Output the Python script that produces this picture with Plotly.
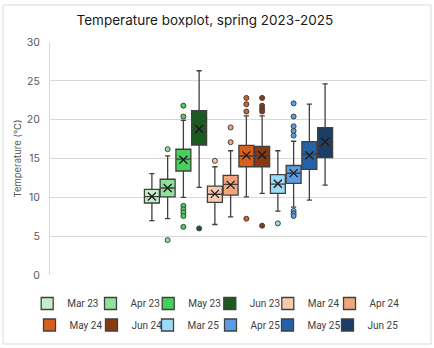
import plotly.graph_objects as go

months = ["Mar 23", "Apr 23", "May 23", "Jun 23", "Mar 24", "Apr 24",
          "May 24", "Jun 24", "Mar 25", "Apr 25", "May 25", "Jun 25"]
colors = ["#c4efc9", "#8ee39c", "#47d05a", "#1b5a20", "#f8cbb0", "#f2a57b",
          "#d6601c", "#8a3a12", "#9bdbf6", "#5a9de4", "#2462a8", "#1b3d66"]
lower_whisker = [7.0, 7.25, 10.0, 11.28, 6.5, 7.49, 10.07, 10.5, 8.22, 8.75, 9.64, 11.58]
q1 = [9.27, 10.05, 13.39, 16.74, 9.35, 10.29, 13.94, 13.94, 10.5, 11.8, 13.6, 15.1]
median = [10.1, 11.2, 14.93, 18.9, 10.4, 11.67, 15.32, 15.32, 11.7, 13.1, 15.55, 16.85]
q3 = [11.02, 12.33, 16.19, 21.17, 11.45, 12.83, 16.7, 16.57, 12.93, 14.1, 17.17, 18.98]
upper_whisker = [13.05, 15.34, 19.9, 26.3, 13.94, 16.0, 20.5, 20.5, 16.0, 17.22, 22.0, 24.6]
means = [10.1, 11.2, 14.85, 18.8, 10.45, 11.6, 15.4, 15.45, 11.75, 13.12, 15.4, 17.15]
outliers = [
    [],
    [16.2, 4.5],
    [21.8, 20.4, 8.9, 8.45, 8.05, 7.6, 6.2],
    [6.0],
    [14.7],
    [19.0, 17.1],
    [22.8, 22.0, 21.05, 7.25],
    [22.8, 21.8, 21.4, 21.05, 6.35],
    [6.65],
    [22.1, 20.4, 19.15, 18.55, 17.95, 8.25, 7.9, 7.6],
    [],
    [],
]
y_ticks = [0, 5, 10, 15, 20, 25, 30]

# legend layout (pixel positions of legend symbol centres, styling only)
legend_sym_x = [46.7, 110, 167.7, 229.3, 287.3, 349, 49, 111, 167, 230, 287, 347]
legend_row_y = [302, 323.5]

FONT = "Inter"
LEG_FONT = "Roboto"
LINE = "#404040"

L, R, T, B = 50, 7, 42, 73
W, H = 434, 348
pw, ph = W - L - R, H - T - B


def px_to_paper_x(px):
    return (px - L) / pw


def px_to_paper_y(py):
    return (H - B - py) / ph


fig = go.Figure()
legend_layouts = {}
for i, m in enumerate(months):
    leg = "legend" if i == 0 else f"legend{i + 1}"
    fig.add_trace(go.Box(
        x=[i], q1=[q1[i]], median=[median[i]], q3=[q3[i]],
        lowerfence=[lower_whisker[i]], upperfence=[upper_whisker[i]],
        width=0.95, whiskerwidth=0.35, name=m, fillcolor=colors[i],
        line=dict(color=LINE, width=1.3), boxpoints=False, legend=leg,
        hoverinfo="skip"))
    if outliers[i]:
        fig.add_trace(go.Scatter(
            x=[i] * len(outliers[i]), y=outliers[i], mode="markers",
            marker=dict(symbol="circle", size=5, color=colors[i],
                        line=dict(color=LINE, width=1)),
            showlegend=False, hoverinfo="skip", legend=leg))
    fig.add_trace(go.Scatter(
        x=[i], y=[means[i]], mode="markers",
        marker=dict(symbol="x-thin", size=8, color="#1a1a1a",
                    line=dict(color="#1a1a1a", width=1.3)),
        showlegend=False, hoverinfo="skip", legend=leg))
    row_y = legend_row_y[0] if i < 6 else legend_row_y[1]
    legend_layouts[leg] = dict(
        orientation="h", x=px_to_paper_x(legend_sym_x[i] - 19.5), xanchor="left",
        y=px_to_paper_y(row_y - 13), yanchor="top",
        font=dict(family=LEG_FONT, size=10, color="#404040"),
        bgcolor="rgba(0,0,0,0)")

fig.update_layout(
    width=W, height=H,
    margin=dict(l=L, r=R, t=T, b=B),
    paper_bgcolor="white", plot_bgcolor="white",
    boxmode="overlay",
    font=dict(family=FONT, color="#404040"),
    title=dict(text="Temperature boxplot, spring 2023-2025",
               x=0.472, xanchor="center", y=1 - 20 / H, yanchor="middle",
               font=dict(family=FONT, size=13.5, color="#1a1a1a")),
    xaxis=dict(range=[-6.47, 17.47], showgrid=False, zeroline=False,
               showticklabels=False, ticks="", showline=False),
    yaxis=dict(range=[0, 30], tickvals=y_ticks, showgrid=True,
               gridcolor="#d9d9d9", gridwidth=1, zeroline=False,
               showline=True, linecolor="#d9d9d9", linewidth=1,
               tickfont=dict(family=FONT, size=10.5, color="#595959"),
               ticklabelstandoff=7,
               title=dict(text="Temperature (°C)", standoff=3,
                          font=dict(family=FONT, size=9.5, color="#595959"))),
    shapes=[dict(type="rect", xref="paper", yref="paper",
                 x0=px_to_paper_x(3), x1=px_to_paper_x(431),
                 y0=px_to_paper_y(344), y1=px_to_paper_y(5),
                 line=dict(color="#d9d9d9", width=1), layer="below")],
    **legend_layouts,
)

fig.write_html("out.html")
